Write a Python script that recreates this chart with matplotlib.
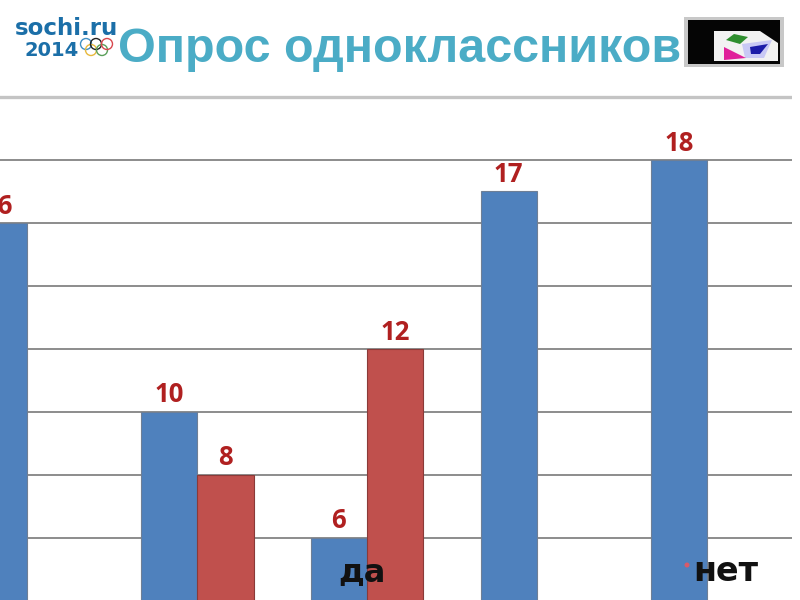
import numpy as np
import matplotlib
matplotlib.use('Agg')
import matplotlib.pyplot as plt
from matplotlib.patches import Circle, Polygon, Rectangle

groups = [0, 1, 2, 3, 4]
da_values = [16, 10, 6, 17, 18]
net_values = [np.nan, 8, 12, np.nan, np.nan]
grid_values = [6, 8, 10, 12, 14, 16, 18]
top_line = 20
title = 'Опрос одноклассников'
ring_colors = ['#3f8fc4', '#e8b93c', '#222222', '#5aa05a', '#d8474d']

BLUE = '#4f81bd'
RED = '#c0504d'
LABEL = '#b02020'
TITLE = '#4bacc6'

fig = plt.figure(figsize=(8, 6), dpi=100, facecolor='white')

# chart area, the slide cuts it off on the left and at the bottom
ax = fig.add_axes([0, 0, 792 / 800, 1])
ax.set_xlim(-27 / 170, 765 / 170)
ax.set_ylim(4.03, 23.08)
ax.axis('off')

for v in grid_values:
    ax.axhline(v, color='#8c8c8c', lw=1.4, zorder=1)
ax.axhline(top_line, color='#c4c4c4', lw=2.4, zorder=1)

w = 56.5 / 170
x = np.array(groups)
ax.bar(x - w / 2, da_values, w, color=BLUE, edgecolor='#6f7f95', lw=0.8, zorder=2)
ax.bar(x + w / 2, net_values, w, color=RED, edgecolor='#8a3a38', lw=0.8, zorder=3)

for xi, v in zip(x, da_values):
    ax.annotate(str(v), (xi - w / 2, v), xytext=(0, 2.5), textcoords='offset points',
                ha='center', va='bottom', color=LABEL, fontsize=18.5,
                family='Open Sans', weight='bold', zorder=4, annotation_clip=False)
for xi, v in zip(x, net_values):
    if not np.isnan(v):
        ax.annotate(str(v), (xi + w / 2, v), xytext=(0, 2.5), textcoords='offset points',
                    ha='center', va='bottom', color=LABEL, fontsize=18.5,
                    family='Open Sans', weight='bold', zorder=4)

# overlay in pixel coordinates for the slide furniture
over = fig.add_axes([0, 0, 1, 1])
over.set_xlim(0, 800)
over.set_ylim(600, 0)
over.axis('off')
over.patch.set_alpha(0)

over.text(118, 62, title, color=TITLE, fontsize=34.9, family='Liberation Sans',
          weight='bold', ha='left', va='baseline')

# legend text sitting on top of the bars
over.text(362, 581, 'да', color='#111111', fontsize=23, family='DejaVu Sans',
          weight='bold', ha='center', va='baseline')
over.text(726, 581, 'нет', color='#111111', fontsize=24, family='DejaVu Sans',
          weight='bold', ha='center', va='baseline')
over.add_patch(Circle((687, 565), 2.5, color='#d85a6a', lw=0))

# logo
over.text(66, 35, 'sochi.ru', color='#1b6fa8', fontsize=16.5, family='DejaVu Sans',
          weight='bold', ha='center', va='baseline')
over.text(52, 56, '2014', color='#1b6fa8', fontsize=14, family='DejaVu Sans',
          weight='bold', ha='center', va='baseline')
for (cx, cy), c in zip([(86, 44), (91, 50), (96, 44), (102, 50), (107, 44)], ring_colors):
    over.add_patch(Circle((cx, cy), 5.5, fill=False, edgecolor=c, lw=1.0))

# broken picture icon
over.add_patch(Rectangle((684, 17), 100, 50, color='#c8c8c8', lw=0))
over.add_patch(Rectangle((688, 20), 92, 44, color='#050505', lw=0))
over.add_patch(Polygon([(714, 31), (760, 31), (778, 43), (778, 61), (714, 61)],
                       color='#f2f2f2', lw=0))
over.add_patch(Polygon([(742, 44), (772, 40), (764, 58), (745, 58)], color='#c9c9f5', lw=0))
over.add_patch(Polygon([(726, 40), (734, 34), (748, 37), (740, 44)], color='#2f8f2f', lw=0))
over.add_patch(Polygon([(750, 47), (768, 44), (760, 54), (751, 54)], color='#1c1ca8', lw=0))
over.add_patch(Polygon([(724, 47), (746, 58), (724, 60)], color='#e0209a', lw=0))

fig.savefig('out.png', dpi=100)
